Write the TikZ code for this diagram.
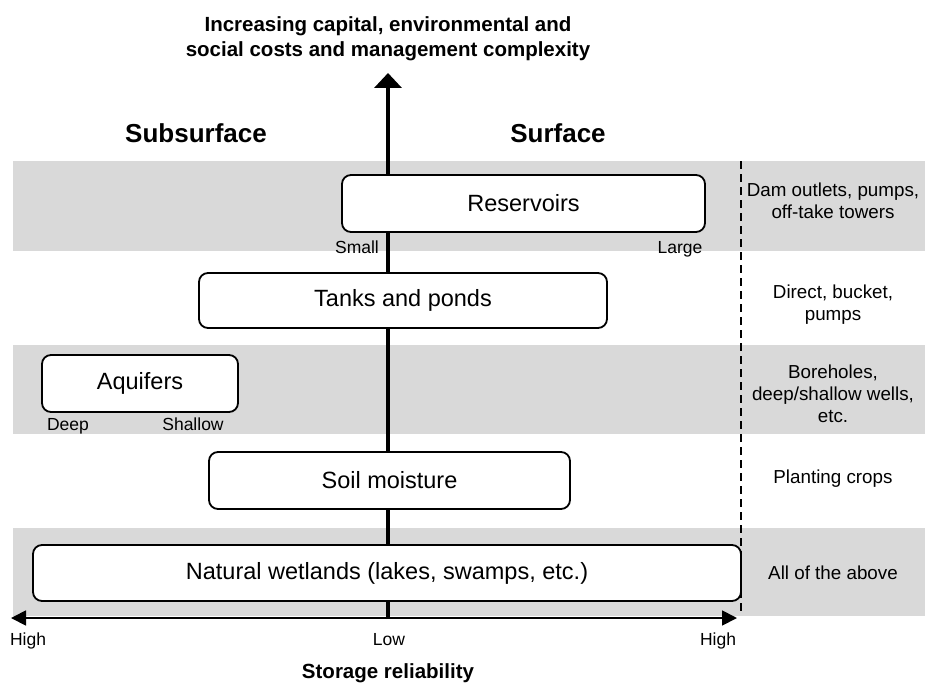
\documentclass[tikz,border=0pt]{standalone}
\usepackage{fontspec}
\setmainfont{Liberation Sans}
\usetikzlibrary{arrows.meta}
\definecolor{bandgray}{RGB}{217,217,217}
\begin{document}
\begin{tikzpicture}[x=1pt,y=-1pt,
  store/.style={draw=black, line width=1.8pt, rounded corners=9pt, fill=white, inner sep=0pt,
    font=\fontsize{23.5}{28}\selectfont},
  lbl/.style={inner sep=0pt, anchor=base, font=\fontsize{17.5}{21}\selectfont},
  acc/.style={inner sep=0pt, align=center, font=\fontsize{18.8}{22}\selectfont},
  ttl/.style={inner sep=0pt, anchor=base, font=\bfseries\fontsize{20.5}{25}\selectfont},
  side/.style={inner sep=0pt, anchor=base, font=\bfseries\fontsize{26}{30}\selectfont},
  band/.style={fill=bandgray, draw=none},
  divider/.style={line width=1.5pt, dash pattern=on 8pt off 5pt}]
\useasboundingbox (0,0) rectangle (925,682);
% bands
\path[band] (13,161) rectangle (925,251);
\path[band] (13,345) rectangle (925,434);
\path[band] (13,528) rectangle (925,616);
% axes
\coordinate (vb) at (388,619);
\coordinate (vt) at (388,73);
\coordinate (hl) at (11,618);
\coordinate (hr) at (737,618);
\draw[line width=4.5pt, -{Triangle[length=15pt,width=27pt]}] (vb) -- (vt);
\draw[line width=1.8pt, {Triangle[length=15pt,width=15pt]}-{Triangle[length=15pt,width=15pt]}] (hl) -- (hr);
% divider
\coordinate (dt) at (741,161);
\coordinate (db) at (741,612);
\draw[divider] (dt) -- (db);
% titles
\node[ttl] (t1) at (388,32) {Increasing capital, environmental and};
\node[ttl] (t2) at (388,57) {social costs and management complexity};
\node[side] (sub) at (196,142) {Subsurface};
\node[side] (sur) at (558,142) {Surface};
\node[ttl] (rel) at (388,678) {Storage reliability};
% boxes
\node[store, minimum width=363pt, minimum height=57pt] (res) at (523.5,203.5) {Reservoirs};
\node[store, minimum width=408pt, minimum height=55pt] (tank) at (403,300.5) {Tanks and ponds};
\node[store, minimum width=196pt, minimum height=57pt] (aqu) at (140,383.5) {Aquifers};
\node[store, minimum width=361pt, minimum height=57pt] (soil) at (389.5,480.5) {Soil moisture};
\node[store, minimum width=708pt, minimum height=56pt] (wet) at (387,573) {Natural wetlands (lakes, swamps, etc.)};
% small labels
\node[lbl] (small) at (357,253) {Small};
\node[lbl] (large) at (680,253) {Large};
\node[lbl] (deep) at (68,430) {Deep};
\node[lbl] (shallow) at (193,430) {Shallow};
\node[lbl] (hhl) at (28,645) {High};
\node[lbl] (low) at (389,645) {Low};
\node[lbl] (hhr) at (718,645) {High};
% access methods
\node[acc] (a1) at (833,201) {Dam outlets, pumps,\\off-take towers};
\node[acc] (a2) at (833,305) {Direct, bucket,\\pumps};
\node[acc] (a3) at (833,394) {Boreholes,\\deep/shallow wells,\\etc.};
\node[acc] (a4) at (833,479) {Planting crops};
\node[acc] (a5) at (833,573) {All of the above};
\end{tikzpicture}
\end{document}
